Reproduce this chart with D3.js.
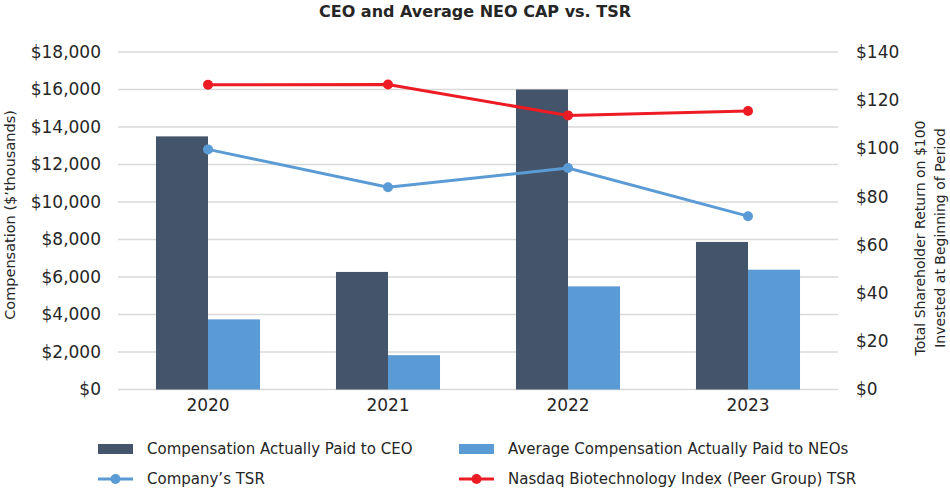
<!DOCTYPE html>
<html lang="en">
<head>
<meta charset="UTF-8">
<title>CEO and Average NEO CAP vs. TSR</title>
<script src="https://d3js.org/d3.v7.min.js"></script>
<style>
  body { margin: 0; background: #fff; }
  svg { font-family: "DejaVu Sans", Verdana, sans-serif; }
  .grid line { stroke: #d9d9d9; stroke-width: 1.5px; }
  .tick text { fill: #262626; }
</style>
</head>
<body>
<script>
// chart data
const years = ["2020", "2021", "2022", "2023"];
const ceoCap = [13500, 6270, 16000, 7870];
const neoCap = [3740, 1830, 5500, 6390];
const companyTsr = [99.6, 83.9, 91.9, 71.9];
const peerTsr = [126.4, 126.5, 113.7, 115.5];
const leftTicks = [0, 2000, 4000, 6000, 8000, 10000, 12000, 14000, 16000, 18000];
const rightTicks = [0, 20, 40, 60, 80, 100, 120, 140];

const width = 950, height = 489;
const m = { top: 52, right: 112, bottom: 100, left: 118 };

const svg = d3.select("body").append("svg")
  .attr("width", width)
  .attr("height", height);

const x = d3.scaleBand().domain(years).range([m.left, width - m.right]).padding(0);
const xs = d3.scaleBand().domain(["ceo", "neo"]).range([0, x.bandwidth()])
  .paddingInner(0).paddingOuter(0.73);
const yL = d3.scaleLinear().domain([0, 18000]).range([height - m.bottom + 0.5, m.top]);
const yR = d3.scaleLinear().domain([0, 140]).range([height - m.bottom + 0.5, m.top]);

// gridlines
svg.append("g").attr("class", "grid")
  .selectAll("line").data(leftTicks).join("line")
  .attr("x1", m.left).attr("x2", width - m.right)
  .attr("y1", d => yL(d)).attr("y2", d => yL(d));

// bars
const colors = { ceo: "#44546a", neo: "#5b9bd5" };
const groups = svg.append("g").selectAll("g").data(years).join("g")
  .attr("transform", d => `translate(${x(d)},0)`);
groups.selectAll("rect")
  .data((d, i) => [{ k: "ceo", v: ceoCap[i] }, { k: "neo", v: neoCap[i] }])
  .join("rect")
  .attr("x", d => xs(d.k))
  .attr("width", xs.bandwidth())
  .attr("y", d => yL(d.v))
  .attr("height", d => yL(0) - yL(d.v))
  .attr("fill", d => colors[d.k]);

// axes
const fmt = d => "$" + d3.format(",")(d);
const axL = svg.append("g").attr("transform", `translate(${m.left},0)`)
  .call(d3.axisLeft(yL).tickValues(leftTicks).tickFormat(fmt).tickSize(0).tickPadding(17));
const axR = svg.append("g").attr("transform", `translate(${width - m.right},0)`)
  .call(d3.axisRight(yR).tickValues(rightTicks).tickFormat(d => "$" + d).tickSize(0).tickPadding(18));
const axB = svg.append("g").attr("transform", `translate(0,${yL(0)})`)
  .call(d3.axisBottom(x).tickSize(0).tickPadding(9));
[axL, axR, axB].forEach(a => {
  a.attr("font-family", null).attr("font-size", null);
  a.select(".domain").remove();
  a.selectAll("text").attr("font-size", 17);
});

// lines
const line = d3.line().x((d, i) => x(years[i]) + x.bandwidth() / 2).y(d => yR(d));
const series = [
  { vals: companyTsr, color: "#5b9bd5" },
  { vals: peerTsr, color: "#ed1c24" }
];
series.forEach(s => {
  svg.append("path").datum(s.vals)
    .attr("fill", "none").attr("stroke", s.color).attr("stroke-width", 3)
    .attr("d", line);
  svg.append("g").selectAll("circle").data(s.vals).join("circle")
    .attr("cx", (d, i) => x(years[i]) + x.bandwidth() / 2)
    .attr("cy", d => yR(d))
    .attr("r", 5)
    .attr("fill", s.color);
});

// title
svg.append("text")
  .attr("x", 475).attr("y", 17)
  .attr("text-anchor", "middle")
  .attr("font-size", 16).attr("font-weight", "bold").attr("fill", "#262626")
  .text("CEO and Average NEO CAP vs. TSR");

// axis titles
svg.append("text")
  .attr("transform", "translate(15,215) rotate(-90)")
  .attr("text-anchor", "middle").attr("font-size", 14.5).attr("fill", "#262626")
  .text("Compensation ($\u2019thousands)");
const rt = svg.append("text")
  .attr("transform", "translate(925,238) rotate(-90)")
  .attr("text-anchor", "middle").attr("font-size", 14).attr("fill", "#262626");
rt.append("tspan").attr("x", 0).attr("dy", 0).text("Total Shareholder Return on $100");
rt.append("tspan").attr("x", 0).attr("dy", 20).text("Invested at Beginning of Period");

// legend
const legendItems = [
  { label: "Compensation Actually Paid to CEO", type: "bar", color: colors.ceo, x: 98, y: 449 },
  { label: "Average Compensation Actually Paid to NEOs", type: "bar", color: colors.neo, x: 459, y: 449 },
  { label: "Company\u2019s TSR", type: "line", color: "#5b9bd5", x: 98, y: 479 },
  { label: "Nasdaq Biotechnology Index (Peer Group) TSR", type: "line", color: "#ed1c24", x: 459, y: 479 }
];
const lg = svg.append("g").selectAll("g").data(legendItems).join("g")
  .attr("transform", d => `translate(${d.x},${d.y})`);
lg.filter(d => d.type === "bar").append("rect")
  .attr("x", 0).attr("y", -5).attr("width", 35).attr("height", 10)
  .attr("fill", d => d.color);
lg.filter(d => d.type === "line").append("line")
  .attr("x1", 0).attr("x2", 35).attr("y1", 0).attr("y2", 0)
  .attr("stroke", d => d.color).attr("stroke-width", 3);
lg.filter(d => d.type === "line").append("circle")
  .attr("cx", 17.5).attr("cy", 0).attr("r", 5).attr("fill", d => d.color);
lg.append("text")
  .attr("x", 49).attr("dy", "0.35em")
  .attr("font-size", 15).attr("fill", "#262626")
  .text(d => d.label);
</script>
</body>
</html>
